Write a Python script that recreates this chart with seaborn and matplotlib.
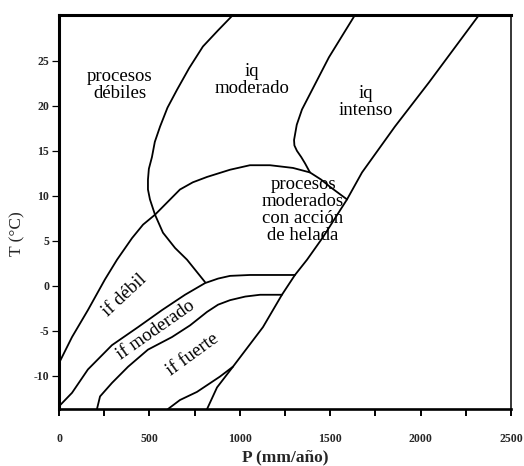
import matplotlib
matplotlib.use("Agg")
import matplotlib.pyplot as plt
import seaborn as sns

# boundary curves: P (mm/año) and T (°C)
# procesos débiles | iq moderado
deb_p = [962, 880, 796, 720, 653, 600, 559, 530, 514, 497, 492, 492, 503, 531, 575, 642, 708, 808]
deb_t = [30.1, 28.4, 26.6, 24.2, 21.8, 19.8, 17.7, 16.0, 14.3, 13.0, 11.8, 10.7, 9.6, 7.9, 5.9, 4.2, 2.9, 0.4]

# arc over "procesos moderados con acción de helada" (and top of if débil)
arc_p = [0, 72, 160, 254, 321, 404, 465, 531, 600, 669, 740, 819, 946, 1056, 1167, 1294, 1388, 1450, 1499, 1593]
arc_t = [-8.6, -5.7, -2.7, 0.7, 2.9, 5.3, 6.8, 7.9, 9.3, 10.7, 11.5, 12.1, 12.9, 13.4, 13.4, 13.1, 12.6, 11.8, 11.0, 9.6]

# iq moderado | iq intenso
int_p = [1637, 1493, 1344, 1315, 1300, 1302, 1316, 1340, 1361, 1388]
int_t = [30.1, 25.4, 19.6, 17.9, 16.2, 15.6, 15.0, 14.3, 13.6, 12.6]

# long diagonal limit
diag_p = [2323, 2046, 1858, 1676, 1593, 1460, 1372, 1305, 1233, 1128, 962, 874, 819]
diag_t = [30.1, 22.6, 17.7, 12.6, 9.6, 5.4, 2.9, 1.2, -1.0, -4.6, -9.0, -11.3, -13.7]

# if débil | if moderado
ifd_p = [0, 72, 160, 293, 437, 570, 697, 808, 880, 946, 1056, 1305]
ifd_t = [-13.4, -11.9, -9.3, -6.6, -4.6, -2.7, -1.0, 0.3, 0.8, 1.1, 1.2, 1.2]

# if moderado | if fuerte
ifm_p = [210, 227, 293, 382, 492, 625, 725, 819, 880, 946, 1030, 1112, 1233]
ifm_t = [-13.7, -12.3, -10.8, -9.0, -7.1, -5.7, -4.4, -2.9, -2.1, -1.6, -1.2, -1.0, -1.0]

# lower edge of if fuerte
iff_p = [603, 669, 763, 890, 962]
iff_t = [-13.7, -12.7, -11.8, -10.1, -9.0]

x_ticks = [0, 250, 500, 750, 1000, 1250, 1500, 1750, 2000, 2250, 2500]
x_labels = ["0", "", "500", "", "1000", "", "1500", "", "2000", "", "2500"]
y_ticks = [-10, -5, 0, 5, 10, 15, 20, 25]
y_labels = ["-10", "-5", "0", "5", "10", "15", "20", "25"]

region_names = ["procesos\ndébiles", "iq\nmoderado", "iq\nintenso",
                "procesos\nmoderados\ncon acción\nde helada",
                "if débil", "if moderado", "if fuerte"]

sns.set_style("ticks")
plt.rcParams["font.family"] = ["Liberation Serif", "DejaVu Serif"]

fig = plt.figure(figsize=(5.24, 4.66), dpi=100)
ax = fig.add_axes([0.1126, 0.1223, 0.8626, 0.8455])

curves = [(deb_p, deb_t), (arc_p, arc_t), (int_p, int_t), (diag_p, diag_t),
          (ifd_p, ifd_t), (ifm_p, ifm_t), (iff_p, iff_t)]
for px, ty in curves:
    sns.lineplot(x=px, y=ty, ax=ax, sort=False, estimator=None,
                 color="black", linewidth=1.3)

ax.set_xlim(0, 2500)
ax.set_ylim(-13.7, 30.1)

ax.set_xticks(x_ticks)
ax.set_xticklabels(x_labels, fontsize=8.5, fontweight="bold")
ax.set_yticks(y_ticks)
ax.set_yticklabels(y_labels, fontsize=8.5, fontweight="bold")
ax.tick_params(axis="x", direction="out", length=5, width=1.4, pad=12, color="black")
ax.tick_params(axis="y", direction="out", length=5, width=0.9, pad=2, color="black")

for side, lw in [("left", 2.2), ("top", 2.2), ("bottom", 1.9), ("right", 1.1)]:
    ax.spines[side].set_visible(True)
    ax.spines[side].set_linewidth(lw)
    ax.spines[side].set_color("black")

ax.set_xlabel("P (mm/año)", fontsize=12.5, fontweight="bold")
ax.xaxis.label.set_va("center")
ax.xaxis.set_label_coords(0.5, -0.124)
ax.set_ylabel("T (°C)", fontsize=12.5)
ax.yaxis.label.set_va("center")
ax.yaxis.set_label_coords(-0.093, 0.444)

txt = dict(fontsize=13.5, ha="center", va="center", linespacing=1.0,
           multialignment="center", color="black")
ax.text(337, 22.3, region_names[0], **txt)
ax.text(1065, 22.9, region_names[1], **txt)
ax.text(1698, 20.4, region_names[2], **txt)
ax.text(1350, 8.4, region_names[3], **txt)
ax.text(365, -1.1, region_names[4], rotation=43, rotation_mode="anchor", **txt)
ax.text(537, -4.9, region_names[5], rotation=35, rotation_mode="anchor", **txt)
ax.text(741, -7.7, region_names[6], rotation=36, rotation_mode="anchor", **txt)

fig.savefig("out.png", dpi=100)
plt.close()
